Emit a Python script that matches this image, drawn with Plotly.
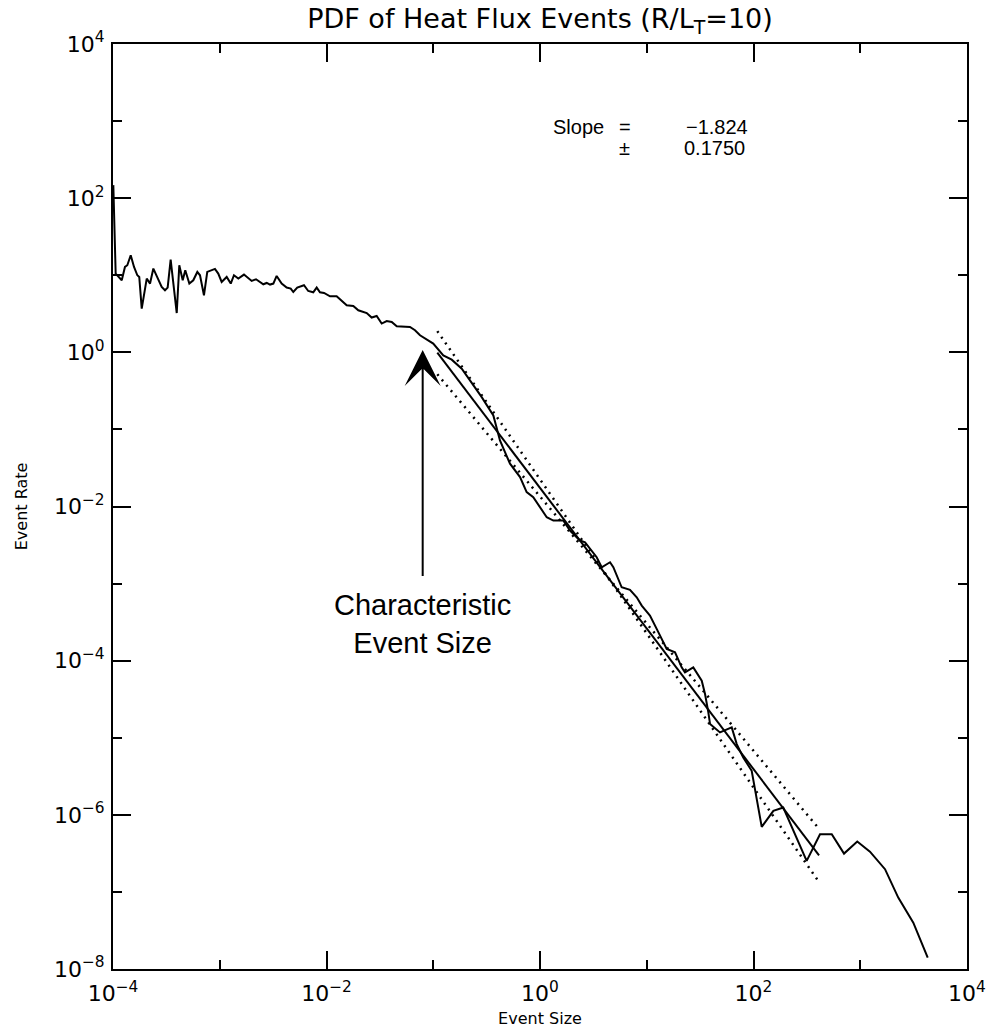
import numpy as np
import plotly.graph_objects as go

# Binned PDF of heat flux events, stored as log10 values (event size, event rate)
log_size = [
    -3.997, -3.975, -3.918, -3.888, -3.866, -3.834, -3.803, -3.772, -3.754, -3.731,
    -3.684, -3.653, -3.622, -3.544, -3.513, -3.488, -3.460, -3.429, -3.403, -3.379,
    -3.347, -3.323, -3.285, -3.248, -3.210, -3.185, -3.148, -3.117, -3.075, -3.045,
    -3.014, -2.982, -2.935, -2.897, -2.867, -2.826, -2.773, -2.701, -2.660, -2.623,
    -2.592, -2.560, -2.529, -2.498, -2.467, -2.420, -2.373, -2.335, -2.311, -2.274,
    -2.211, -2.171, -2.124, -2.092, -2.061, -2.023, -1.967, -1.905, -1.811, -1.749,
    -1.702, -1.623, -1.577, -1.530, -1.483, -1.436, -1.389, -1.342, -1.265, -1.218,
    -1.171, -1.124, -1.000, -0.906, -0.827, -0.733, -0.656, -0.546, -0.437, -0.406,
    -0.375, -0.328, -0.281, -0.187, -0.125, -0.063, 0.016, 0.063, 0.125, 0.218,
    0.281, 0.375, 0.422, 0.468, 0.531, 0.578, 0.656, 0.687, 0.765, 0.843,
    0.906, 0.953, 1.030, 1.093, 1.187, 1.265, 1.327, 1.358, 1.436, 1.515,
    1.546, 1.577, 1.593, 1.686, 1.733, 1.796, 1.843, 1.904, 1.983, 2.077,
    2.186, 2.279, 2.498, 2.623, 2.733, 2.848, 2.972, 3.091, 3.232, 3.356,
    3.497, 3.632,
]
log_rate = [
    2.169, 1.022, 0.935, 1.108, 1.130, 1.260, 1.108, 1.000, 0.978, 0.568,
    0.957, 0.892, 1.087, 0.848, 0.805, 0.840, 1.204, 0.848, 0.510, 1.130,
    0.935, 1.065, 0.892, 0.935, 1.043, 1.000, 0.740, 1.043, 1.065, 1.082,
    1.022, 0.913, 0.978, 0.892, 1.000, 0.957, 1.009, 0.926, 0.948, 0.913,
    0.883, 0.900, 0.879, 0.892, 0.991, 0.892, 0.840, 0.827, 0.783, 0.840,
    0.870, 0.796, 0.779, 0.840, 0.779, 0.770, 0.727, 0.727, 0.610, 0.601,
    0.545, 0.510, 0.451, 0.471, 0.373, 0.406, 0.394, 0.338, 0.329, 0.329,
    0.286, 0.221, 0.113, -0.039, -0.095, -0.212, -0.364, -0.581, -0.818, -0.970,
    -1.143, -1.295, -1.445, -1.619, -1.814, -1.879, -2.052, -2.139, -2.182, -2.182,
    -2.312, -2.442, -2.464, -2.549, -2.658, -2.788, -2.723, -2.788, -3.048, -3.082,
    -3.178, -3.286, -3.416, -3.588, -3.848, -3.892, -4.087, -4.152, -4.087, -4.260,
    -4.432, -4.671, -4.822, -4.931, -4.900, -4.866, -5.082, -5.256, -5.429, -6.156,
    -5.948, -5.905, -6.597, -6.251, -6.251, -6.503, -6.347, -6.477, -6.705, -7.074,
    -7.399, -7.853,
]

# Power-law fit of the tail
fit_slope = -1.824
fit_err = 0.1750
fit_log_rate_at_1 = -1.759      # log10 of fitted rate at event size 1
fit_log_range = [-0.962, 2.614]  # log10 event-size span used by the fit
fit_log_pivot = 0.637            # log10 event size about which the error lines rotate

# Axis ticks
x_major = [-4, -2, 0, 2, 4]
x_minor = [-3, -1, 1, 3]
y_major = [-8, -6, -4, -2, 0, 2, 4]
y_minor = [-7, -5, -3, -1, 1, 3]


def pow_label(e):
    s = str(e).replace("-", "\u2212")
    return f"10<sup>{s}</sup>"


size = np.power(10.0, log_size)
rate = np.power(10.0, log_rate)

fit_lx = np.array(fit_log_range)
fit_ly = fit_log_rate_at_1 + fit_slope * fit_lx
pivot_ly = fit_log_rate_at_1 + fit_slope * fit_log_pivot

fig = go.Figure()

fig.add_trace(go.Scatter(
    x=size, y=rate, mode="lines",
    line=dict(color="black", width=2), hoverinfo="skip",
))
fig.add_trace(go.Scatter(
    x=10 ** fit_lx, y=10 ** fit_ly, mode="lines",
    line=dict(color="black", width=2), hoverinfo="skip",
))
for s in (fit_slope + fit_err, fit_slope - fit_err):
    ly = pivot_ly + s * (fit_lx - fit_log_pivot)
    fig.add_trace(go.Scatter(
        x=10 ** fit_lx, y=10 ** ly, mode="lines",
        line=dict(color="black", width=2.5, dash="2px,5px"), hoverinfo="skip",
    ))

tick_font = dict(family="DejaVu Sans", size=22, color="black")
axis_common = dict(
    type="log", automargin=False,
    showgrid=False, zeroline=False,
    showline=True, linecolor="black", linewidth=2, mirror="allticks",
    ticks="inside", ticklen=18, tickwidth=2, tickcolor="black",
    tickfont=tick_font,
)

fig.update_xaxes(
    **axis_common,
    range=[-4, 4],
    tickmode="array",
    tickvals=[10.0 ** e for e in x_major],
    ticktext=[pow_label(e) for e in x_major],
    ticklabelstandoff=4,
    minor=dict(tickmode="array", tickvals=[10.0 ** e for e in x_minor],
               ticks="inside", ticklen=9, tickwidth=2, tickcolor="black"),
    title=dict(text="Event Size", font=dict(family="DejaVu Sans", size=16, color="black"), standoff=7),
)
fig.update_yaxes(
    **axis_common,
    range=[-8, 4],
    tickmode="array",
    tickvals=[10.0 ** e for e in y_major],
    ticktext=[pow_label(e) for e in y_major],
    ticklabelstandoff=2,
    minor=dict(tickmode="array", tickvals=[10.0 ** e for e in y_minor],
               ticks="inside", ticklen=9, tickwidth=2, tickcolor="black"),
    title=dict(text="Event Rate", font=dict(family="DejaVu Sans", size=16, color="black"), standoff=22),
)

W, H = 997, 1032
L, R, T, B = 113, 30, 44, 63


def px(xp):
    return (xp - L) / (W - L - R)


def py(yp):
    return 1 - (yp - T) / (H - T - B)


label_font = dict(family="Liberation Sans", size=20, color="black")
annotations = [
    dict(text="Slope", x=px(551), y=py(127), xanchor="left"),
    dict(text="=", x=px(625), y=py(127), xanchor="center"),
    dict(text="\u22121.824", x=px(750), y=py(127), xanchor="right"),
    dict(text="\u00b1", x=px(624), y=py(148), xanchor="center"),
    dict(text="0.1750", x=px(747), y=py(148), xanchor="right"),
]
for a in annotations:
    fig.add_annotation(xref="paper", yref="paper", yanchor="middle",
                       showarrow=False, font=label_font, **a)

fig.add_annotation(
    xref="x", yref="y", x=-1.099, y=-3.53,
    text="Characteristic<br>Event Size", showarrow=False,
    font=dict(family="Liberation Sans", size=29, color="black"),
    yanchor="middle", align="center",
)
fig.add_annotation(
    xref="x", yref="y", axref="x", ayref="y",
    x=-1.099, y=0.03, ax=-1.099, ay=-2.922,
    text="", showarrow=True, arrowhead=3, arrowsize=3.0, arrowwidth=2,
    arrowcolor="black", standoff=0, startstandoff=0,
)

fig.update_layout(
    width=W, height=H,
    margin=dict(l=L, r=R, t=T, b=B),
    paper_bgcolor="white", plot_bgcolor="white",
    showlegend=False,
    title=dict(
        text="PDF of Heat Flux Events (R/L<sub>T</sub>=10)",
        font=dict(family="DejaVu Sans", size=27, color="black"),
        x=0.5, xref="paper", xanchor="center",
        y=1 - 19 / H, yref="container", yanchor="middle",
    ),
)

fig.write_html("out.html")
